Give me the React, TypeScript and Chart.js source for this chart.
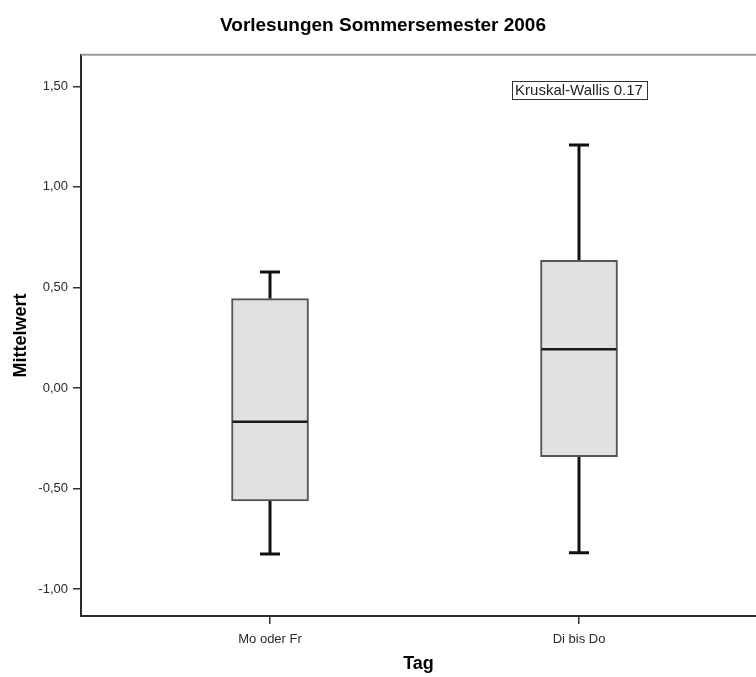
import React, { useEffect, useRef } from 'react';
import { Chart, registerables } from 'chart.js';

Chart.register(...registerables);

// ---- data ----
const categories = ['Mo oder Fr', 'Di bis Do'];
const categoryPositions = [1, 2];
const whiskerLow = [-0.826, -0.819];
const q1 = [-0.562, -0.342];
const median = [-0.168, 0.193];
const q3 = [0.444, 0.635];
const whiskerHigh = [0.577, 1.209];
const yTicks = [-1, -0.5, 0, 0.5, 1, 1.5];
const yMin = -1.134;
const yMax = 1.657;
const xMin = 0.3883;
const xMax = 2.5728;
const annotationText = 'Kruskal-Wallis 0.17';
const annotationX = 2;
const annotationY = 1.483;

const FONT = "'Liberation Sans', Arial, sans-serif";

const boxPartsPlugin = {
  id: 'boxParts',
  beforeDatasetsDraw(chart: any) {
    const { ctx } = chart;
    const x = chart.scales.x;
    const y = chart.scales.y;
    const meta = chart.getDatasetMeta(0);
    ctx.save();
    ctx.strokeStyle = '#111';
    ctx.lineWidth = 3;
    ctx.lineCap = 'butt';
    categoryPositions.forEach((pos, i) => {
      const cx = Math.round(x.getPixelForValue(pos));
      const bw = meta.data[i] ? meta.data[i].width : 77;
      const capHalf = bw * 0.13;
      const yHi = y.getPixelForValue(whiskerHigh[i]);
      const yLo = y.getPixelForValue(whiskerLow[i]);
      ctx.beginPath();
      ctx.moveTo(cx, y.getPixelForValue(q3[i]));
      ctx.lineTo(cx, yHi);
      ctx.moveTo(cx, y.getPixelForValue(q1[i]));
      ctx.lineTo(cx, yLo);
      ctx.moveTo(cx - capHalf, yHi);
      ctx.lineTo(cx + capHalf, yHi);
      ctx.moveTo(cx - capHalf, yLo);
      ctx.lineTo(cx + capHalf, yLo);
      ctx.stroke();
    });
    ctx.restore();
  },
  afterDatasetsDraw(chart: any) {
    const { ctx } = chart;
    const x = chart.scales.x;
    const y = chart.scales.y;
    const meta = chart.getDatasetMeta(0);
    ctx.save();
    ctx.strokeStyle = '#1a1a1a';
    ctx.lineWidth = 2.5;
    categoryPositions.forEach((pos, i) => {
      const cx = x.getPixelForValue(pos);
      const bw = meta.data[i] ? meta.data[i].width : 77;
      const ym = y.getPixelForValue(median[i]);
      ctx.beginPath();
      ctx.moveTo(cx - bw / 2 + 1, ym);
      ctx.lineTo(cx + bw / 2 - 1, ym);
      ctx.stroke();
    });
    ctx.restore();
  },
  afterDraw(chart: any) {
    const { ctx, chartArea } = chart;
    const x = chart.scales.x;
    const y = chart.scales.y;
    ctx.save();
    // top frame line
    ctx.strokeStyle = '#9a9a9a';
    ctx.lineWidth = 2;
    ctx.beginPath();
    ctx.moveTo(chartArea.left, chartArea.top);
    ctx.lineTo(chartArea.right, chartArea.top);
    ctx.stroke();
    // annotation
    ctx.font = `15px ${FONT}`;
    const tw = ctx.measureText(annotationText).width;
    const ax = x.getPixelForValue(annotationX);
    const ay = y.getPixelForValue(annotationY);
    const w = tw + 7;
    const h = 18;
    ctx.fillStyle = '#ffffff';
    ctx.fillRect(ax - w / 2, ay - h / 2, w, h);
    ctx.strokeStyle = '#333';
    ctx.lineWidth = 1;
    ctx.strokeRect(Math.round(ax - w / 2) + 0.5, Math.round(ay - h / 2) + 0.5, Math.round(w), h);
    ctx.fillStyle = '#222';
    ctx.textAlign = 'center';
    ctx.textBaseline = 'middle';
    ctx.fillText(annotationText, ax, ay + 1);
    ctx.restore();
  },
};

export default function App() {
  const canvasRef = useRef<HTMLCanvasElement | null>(null);

  useEffect(() => {
    if (!canvasRef.current) return;
    Chart.defaults.font.family = FONT;
    const chart = new Chart(canvasRef.current, {
      type: 'bar',
      data: {
        datasets: [
          {
            data: categoryPositions.map((p, i) => ({ x: p, y: [q1[i], q3[i]] })) as any,
            backgroundColor: '#e1e1e1',
            borderColor: '#555555',
            borderWidth: 2,
            borderSkipped: false,
            barThickness: 77,
          },
        ],
      },
      options: {
        animation: false,
        responsive: true,
        maintainAspectRatio: false,
        layout: { padding: { left: 10, right: 0, top: 0, bottom: 0 } },
        plugins: {
          legend: { display: false },
          tooltip: { enabled: false },
          title: {
            display: true,
            text: 'Vorlesungen Sommersemester 2006',
            color: '#000',
            font: { size: 19, weight: 'bold', family: FONT },
            padding: { top: 14, bottom: 18 },
          },
        },
        scales: {
          x: {
            type: 'linear',
            min: xMin,
            max: xMax,
            offset: false,
            afterBuildTicks: (scale: any) => {
              scale.ticks = categoryPositions.map((v) => ({ value: v }));
            },
            afterFit: (scale: any) => {
              scale.height = 61;
            },
            ticks: {
              color: '#2a2a2a',
              font: { size: 13, family: FONT },
              padding: 8,
              maxRotation: 0,
              autoSkip: false,
              callback: (v: any) => {
                const idx = categoryPositions.indexOf(Number(v));
                return idx >= 0 ? categories[idx] : '';
              },
            },
            grid: {
              display: true,
              offset: false,
              drawOnChartArea: false,
              drawTicks: true,
              tickLength: 8,
              color: '#333',
              lineWidth: 1.5,
            },
            border: { display: true, color: '#2a2a2a', width: 2 },
            title: {
              display: true,
              text: 'Tag',
              color: '#000',
              font: { size: 18, weight: 'bold', family: FONT },
              padding: { top: 0, bottom: 2 },
            },
          },
          y: {
            type: 'linear',
            min: yMin,
            max: yMax,
            afterBuildTicks: (scale: any) => {
              scale.ticks = yTicks.map((v) => ({ value: v }));
            },
            afterFit: (scale: any) => {
              scale.width = 71;
            },
            ticks: {
              color: '#2a2a2a',
              font: { size: 13, family: FONT },
              padding: 5,
              autoSkip: false,
              callback: (v: any) => Number(v).toFixed(2).replace('.', ','),
            },
            grid: {
              display: true,
              drawOnChartArea: false,
              drawTicks: true,
              tickLength: 8,
              color: '#333',
              lineWidth: 1.5,
            },
            border: { display: true, color: '#2a2a2a', width: 2 },
            title: {
              display: true,
              text: 'Mittelwert',
              color: '#000',
              font: { size: 18, weight: 'bold', family: FONT },
              padding: { top: 0, bottom: 0 },
            },
          },
        },
      },
      plugins: [boxPartsPlugin],
    });
    return () => chart.destroy();
  }, []);

  return (
    <div style={{ position: 'absolute', left: 0, top: 0, width: 756, height: 677 }}>
      <canvas ref={canvasRef} />
    </div>
  );
}
